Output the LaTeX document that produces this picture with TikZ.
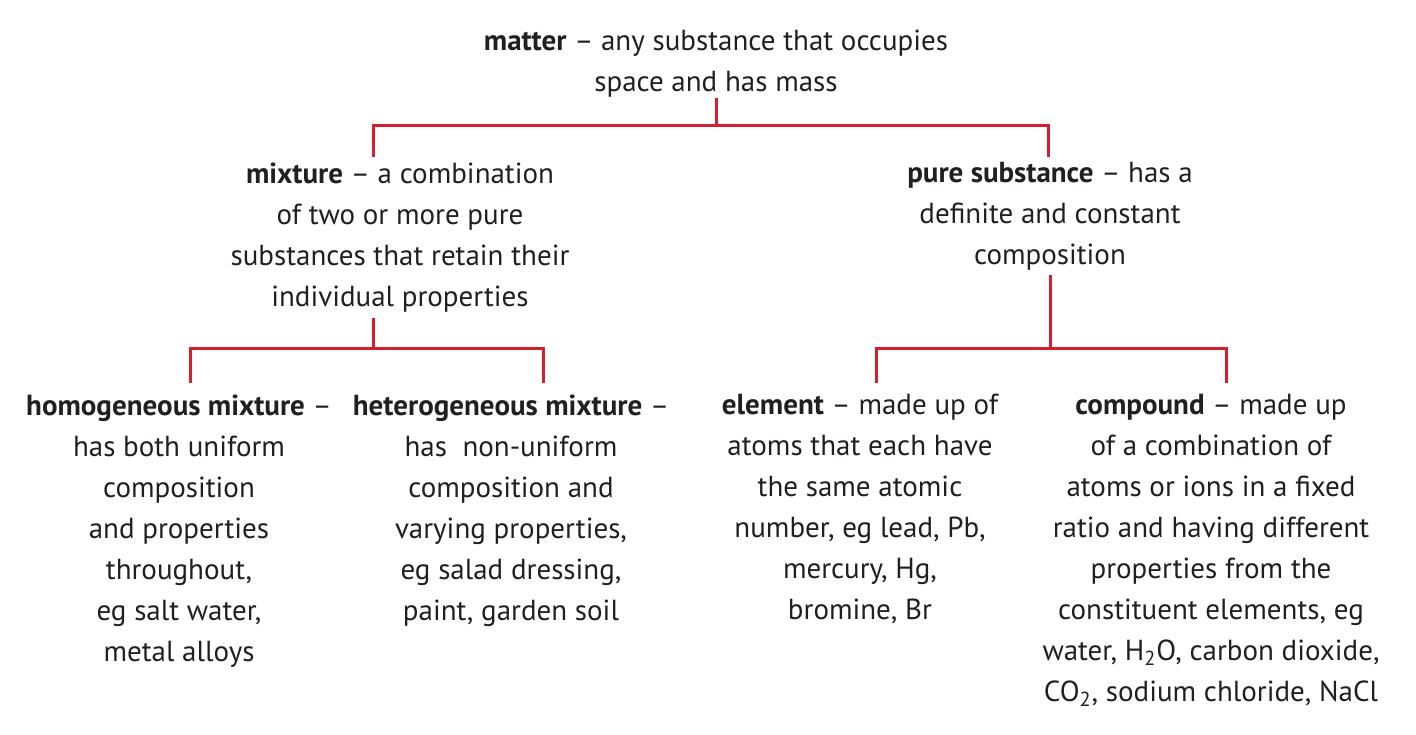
\documentclass[tikz,border=0pt]{standalone}
\usepackage{fontspec}
\setmainfont{PT Sans}
\usetikzlibrary{positioning}

\definecolor{linkred}{RGB}{210,32,48}
\definecolor{inkgray}{RGB}{35,31,32}

\tikzset{
    term/.style={align=center, inner sep=0pt, anchor=north, text=inkgray,
        font=\fontsize{14.5}{20.5}\selectfont},
    link/.style={draw=linkred, line width=1.5pt},
}

\begin{document}
\begin{tikzpicture}[x=0.5pt,y=-0.5pt]
\useasboundingbox (0,0) rectangle (1416,734);

% top level
\node[term] (matter) at (716,30)
    {\textbf{matter} -- any substance that occupies\\space and has mass};

% second level
\node[term] (mixture) at (400,162)
    {\textbf{mixture} -- a combination\\of two or more pure\\substances that retain their\\individual properties};
\node[term] (pure) at (1050,162)
    {\textbf{pure substance} -- has a\\definite and constant\\composition};

% third level
\node[term] (homo) at (179,394)
    {\textbf{homogeneous mixture} --\\has both uniform\\composition\\and properties\\throughout,\\eg salt water,\\metal alloys};
\node[term] (hetero) at (511,394)
    {\textbf{heterogeneous mixture} --\\has~ non-uniform\\composition and\\varying properties,\\eg salad dressing,\\paint, garden soil};
\node[term] (element) at (860,394)
    {\textbf{element} -- made up of\\atoms that each have\\the same atomic\\number, eg lead, Pb,\\mercury, Hg,\\bromine, Br};
\node[term] (compound) at (1211,394)
    {\textbf{compound} -- made up\\of a combination of\\atoms or ions in a fixed\\ratio and having different\\properties from the\\constituent elements, eg\\water, H\textsubscript{2}O, carbon dioxide,\\CO\textsubscript{2}, sodium chloride, NaCl};

% branch points
\coordinate (split1) at (716,125);
\coordinate (mixin) at (373,157);
\coordinate (purein) at (1048,157);
\coordinate (mixout) at (373,318);
\coordinate (split2) at (373,348);
\coordinate (homoin) at (190,383);
\coordinate (heteroin) at (543,383);
\coordinate (pureout) at (1050,275);
\coordinate (split3) at (1050,348);
\coordinate (elemin) at (876,383);
\coordinate (compin) at (1226,383);

% connectors
\draw[link] (matter.south) -- (split1);
\draw[link] (mixin) |- (split1) -| (purein);
\draw[link] (mixout) -- (split2);
\draw[link] (homoin) |- (split2) -| (heteroin);
\draw[link] (pureout) -- (split3);
\draw[link] (elemin) |- (split3) -| (compin);
\end{tikzpicture}
\end{document}
